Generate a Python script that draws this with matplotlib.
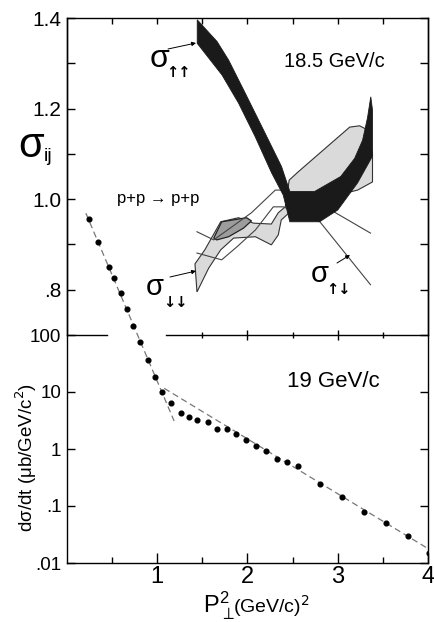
import numpy as np
import matplotlib
matplotlib.use('Agg')
import matplotlib.pyplot as plt
from matplotlib.ticker import FixedLocator, FixedFormatter, NullLocator

plt.rcParams['font.family'] = ['Liberation Sans', 'DejaVu Sans']
plt.rcParams['mathtext.fontset'] = 'dejavusans'

# ---- data ----
# lower panel: d(sigma)/dt at 19 GeV/c
pt2 = [0.245, 0.344, 0.465, 0.520, 0.593, 0.663, 0.729, 0.811, 0.893, 0.975,
       1.058, 1.156, 1.260, 1.352, 1.443, 1.560, 1.663, 1.773, 1.874, 1.981,
       2.091, 2.201, 2.322, 2.437, 2.560, 2.799, 3.044, 3.293, 3.531, 3.780, 4.016]
dsdt = [10800, 4230, 1580, 990, 540, 286, 144, 74.5, 36.4, 18.1,
        10.1, 6.3, 4.2, 3.7, 3.2, 3.0, 2.2, 2.2, 1.8, 1.46,
        1.15, 0.91, 0.67, 0.58, 0.50, 0.243, 0.145, 0.079, 0.050, 0.030, 0.015]
fit1_x = [0.209, 1.187]
fit1_y = [13700, 3.1]
fit2_x = [1.077, 3.99]
fit2_y = [11.6, 0.0183]

# upper panel: spin cross sections at 18.5 GeV/c
uu_x_hi = [1.443, 1.663, 1.791, 1.975, 2.194, 2.377, 2.469, 2.744, 3.033, 3.187, 3.275, 3.330, 3.366]
uu_hi = [1.396, 1.348, 1.307, 1.234, 1.146, 1.072, 1.017, 1.017, 1.050, 1.090, 1.130, 1.180, 1.226]
uu_x_lo = [1.443, 1.718, 1.901, 2.085, 2.267, 2.396, 2.469, 2.799, 3.000, 3.220, 3.385, 3.385]
uu_lo = [1.344, 1.274, 1.212, 1.138, 1.058, 1.009, 0.950, 0.950, 0.976, 1.036, 1.095, 1.197]

dd_x_hi = [1.418, 1.527, 1.703, 1.901, 2.066, 2.264, 2.341, 2.418, 2.462, 2.560, 3.132, 3.242, 3.330, 3.385]
dd_hi = [0.857, 0.888, 0.950, 0.959, 0.947, 0.945, 0.970, 0.983, 1.042, 1.060, 1.159, 1.162, 1.153, 1.100]
dd_x_lo = [1.440, 1.571, 1.703, 1.846, 2.088, 2.264, 2.341, 2.374, 2.473, 2.780, 3.220, 3.385]
dd_lo = [0.795, 0.848, 0.888, 0.914, 0.917, 0.899, 0.921, 0.954, 0.972, 0.998, 1.020, 1.038]

mid_x = [1.714, 1.989, 2.044, 1.956, 1.791, 1.659, 1.626]
mid_y = [0.950, 0.959, 0.952, 0.936, 0.917, 0.910, 0.914]

ud1_x = [1.440, 1.626, 2.044, 2.308, 2.374, 2.923, 3.363]
ud1_y = [0.928, 0.910, 0.970, 1.020, 1.020, 0.976, 0.925]
ud2_x = [1.440, 1.714, 1.879, 2.088, 2.286, 2.396, 2.802, 3.363]
ud2_y = [0.881, 0.866, 0.894, 0.932, 0.983, 0.983, 0.950, 0.811]

# ---- layout in pixels ----
W, H = 435, 622
L, R = 67, 428
TOP, MID, BOT = 18, 335, 563

def fx(px):
    return px / W

def fy(py):
    return 1 - py / H

fig = plt.figure(figsize=(W / 100, H / 100), dpi=100)
ax_b = fig.add_axes([fx(L), fy(BOT), (R - L) / W, (BOT - TOP) / H])
ax_t = fig.add_axes([fx(L), fy(MID), (R - L) / W, (MID - TOP) / H])
ax_t.set_facecolor('none')

# lower (log) axes spans full height so the points can run up into the top panel
decade = (BOT - MID) / 4.0
ax_b.set_yscale('log')
ax_b.set_ylim(0.01, 100 * 10 ** ((MID - TOP) / decade))
ax_b.set_xlim(0, 4)
ax_b.yaxis.set_major_locator(FixedLocator([0.01, 0.1, 1, 10, 100]))
ax_b.yaxis.set_major_formatter(FixedFormatter(['.01', '.1', '1', '10', '100']))
ax_b.yaxis.set_minor_locator(NullLocator())
ax_b.tick_params(axis='y', which='major', direction='in', left=True, right=True,
                 length=6, width=1, labelsize=13.5, pad=4)
ax_b.set_xticks([1, 2, 3, 4])
ax_b.set_xticklabels(['1', '2', '3', '4'])
ax_b.set_xticks([0.5, 1.5, 2.5, 3.5], minor=True)
ax_b.tick_params(axis='x', which='major', direction='in', length=7, width=1,
                 labelsize=17, pad=2)
ax_b.tick_params(axis='x', which='minor', direction='in', length=4, width=1)
ax_b.spines['top'].set_visible(False)
for s in ax_b.spines.values():
    s.set_linewidth(1)

ax_b.plot(fit1_x, fit1_y, ls=(0, (5, 3)), color='#777777', lw=0.9)
ax_b.plot(fit2_x, fit2_y, ls=(0, (5, 3)), color='#777777', lw=0.9)
ax_b.plot(pt2, dsdt, 'o', ms=3.4, color='black', zorder=3)

# upper axes
ax_t.set_xlim(0, 4)
ax_t.set_ylim(0.7, 1.4)
ax_t.set_yticks([0.8, 1.0, 1.2, 1.4])
ax_t.set_yticklabels(['.8', '1.0', '1.2', '1.4'])
ax_t.set_yticks([0.9, 1.1, 1.3], minor=True)
ax_t.tick_params(axis='y', which='both', direction='in', left=True, right=True,
                 length=6, width=1, labelsize=15, pad=4)
ax_t.set_xticks(np.arange(0.5, 4.0, 0.5))
ax_t.tick_params(axis='x', direction='in', top=True, bottom=False,
                 labeltop=False, labelbottom=False, length=4, width=1)
ax_t.spines['bottom'].set_bounds(1.1, 4)
for s in ax_t.spines.values():
    s.set_linewidth(1)
ax_t.axhline(0.7, 0, 0.11, color='black', lw=1, clip_on=False)
ax_t.plot([2, 3], [0.7, 0.7], ls='none', marker='|', ms=7, mew=1,
          color='black', clip_on=False)
ax_t.plot([1.5, 2.5, 3.5], [0.7, 0.7, 0.7], ls='none', marker='|', ms=4.5, mew=1,
          color='black', clip_on=False)

ax_t.fill(np.concatenate([dd_x_hi, dd_x_lo[::-1]]), np.concatenate([dd_hi, dd_lo[::-1]]),
          facecolor='#dadada', edgecolor='#333333', lw=0.8, zorder=1)
ax_t.fill(mid_x, mid_y, facecolor='#9c9c9c', edgecolor='#222222', lw=0.9, zorder=2)
ax_t.plot(ud1_x, ud1_y, color='#444444', lw=0.8, zorder=3)
ax_t.plot(ud2_x, ud2_y, color='#444444', lw=0.8, zorder=3)
ax_t.fill(np.concatenate([uu_x_hi, uu_x_lo[::-1]]), np.concatenate([uu_hi, uu_lo[::-1]]),
          facecolor='#1a1a1a', edgecolor='#1a1a1a', lw=0.6, zorder=4)

# labels
fig.text(fx(18), fy(157), '\u03c3', fontsize=30, va='baseline', ha='left')
fig.text(fx(44), fy(161), 'ij', fontsize=14, va='baseline', ha='left')

fig.text(fx(150), fy(67), '\u03c3', fontsize=23, va='baseline', ha='left')
fig.text(fx(178), fy(77), '\u2191\u2191', fontsize=10.5, va='baseline', ha='center',
         family=['DejaVu Sans'], weight='bold')
fig.text(fx(146), fy(295), '\u03c3', fontsize=21, va='baseline', ha='left')
fig.text(fx(175), fy(307), '\u2193\u2193', fontsize=10.5, va='baseline', ha='center',
         family=['DejaVu Sans'], weight='bold')
fig.text(fx(311), fy(282), '\u03c3', fontsize=21, va='baseline', ha='left')
fig.text(fx(338), fy(294), '\u2191\u2193', fontsize=10.5, va='baseline', ha='center',
         family=['DejaVu Sans'], weight='bold')

arrow = dict(arrowstyle='-|>', lw=0.7, color='black', mutation_scale=6,
             shrinkA=0, shrinkB=0)
ax_t.annotate('', xy=(fx(196), fy(43)), xytext=(fx(168), fy(49)),
              xycoords='figure fraction', textcoords='figure fraction', arrowprops=arrow)
ax_t.annotate('', xy=(fx(196), fy(271)), xytext=(fx(170), fy(277)),
              xycoords='figure fraction', textcoords='figure fraction', arrowprops=arrow)
ax_t.annotate('', xy=(fx(350), fy(255)), xytext=(fx(337), fy(263)),
              xycoords='figure fraction', textcoords='figure fraction', arrowprops=arrow)

fig.text(fx(334), fy(67), '18.5 GeV/c', fontsize=14.5, ha='center', va='baseline')
fig.text(fx(158), fy(203), 'p+p \u2192 p+p', fontsize=12, ha='center', va='baseline')
fig.text(fx(333), fy(387), '19 GeV/c', fontsize=16, ha='center', va='baseline')

fig.text(fx(26), fy(457), 'd\u03c3/dt (\u03bcb/GeV/c$^2$)', fontsize=13.5,
         rotation=90, ha='center', va='center')
fig.text(fx(203), fy(613), r'$\mathregular{P}_{\perp}^{\mathregular{2}}$', fontsize=17,
         ha='left', va='baseline')
fig.text(fx(233), fy(613), '(GeV/c)$^2$', fontsize=14, ha='left', va='baseline')

fig.savefig('out.png', dpi=100)
